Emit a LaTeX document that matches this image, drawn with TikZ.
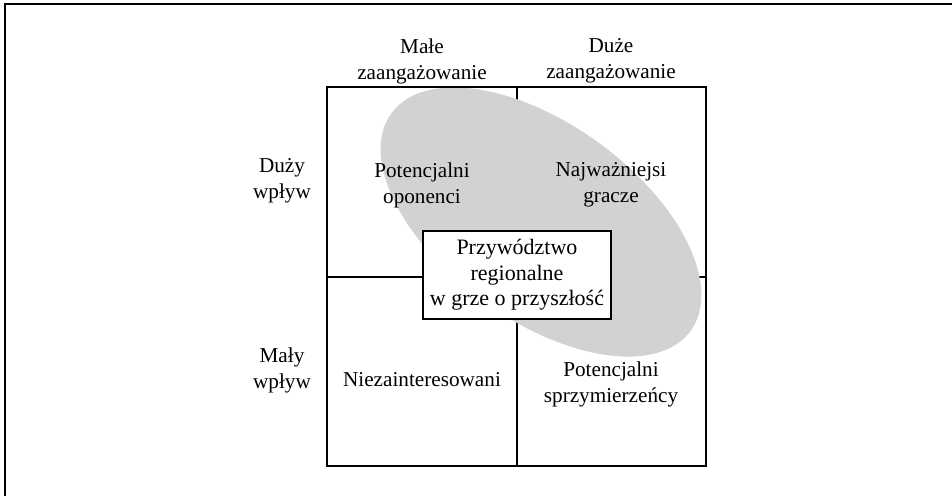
\documentclass[tikz,border=0pt]{standalone}
\usepackage{fontspec}
\setmainfont{Liberation Serif}
\definecolor{ellgray}{RGB}{209,210,212}

\begin{document}
\begin{tikzpicture}[x=0.5pt,y=-0.5pt,
        lbl/.style={align=center,font=\fontsize{10.6}{13}\selectfont},
        gridline/.style={line width=0.8pt}]
        \useasboundingbox (0,0) rectangle (952,495);
        \begin{scope}
            \clip (0,0) rectangle (952,495);
            \draw[line width=1pt](5,4) rectangle (980,520);
        \end{scope}

        \draw[gridline](517,87)--(517,466) (327,277)--(706,277);
        \fill[ellgray,rotate around={-36:(541,222)}](541,222) ellipse [x radius=185,y radius=98];
        \draw[gridline](327,87) rectangle (706,466);

        \node[lbl,draw,fill=white,gridline,minimum width=94pt,minimum height=44pt,inner sep=2pt,
            font=\fontsize{11}{12.8}\selectfont](lider) at (517,275){Przywództwo\\regionalne\\w grze o przyszłość};

        \node[lbl](male) at (422,61){Małe\\zaangażowanie};
        \node[lbl](duze) at (611,61){Duże\\zaangażowanie};
        \node[lbl](duzy) at (282,181){Duży\\wpływ};
        \node[lbl](maly) at (282,370){Mały\\wpływ};

        \node[lbl](oponenci) at (422,185){Potencjalni\\oponenci};
        \node[lbl](gracze) at (611,185){Najważniejsi\\gracze};
        \node[lbl](niezaint) at (422,380){Niezainteresowani};
        \node[lbl](sprzym) at (611,384){Potencjalni\\sprzymierzeńcy};
    \end{tikzpicture}
\end{document}
